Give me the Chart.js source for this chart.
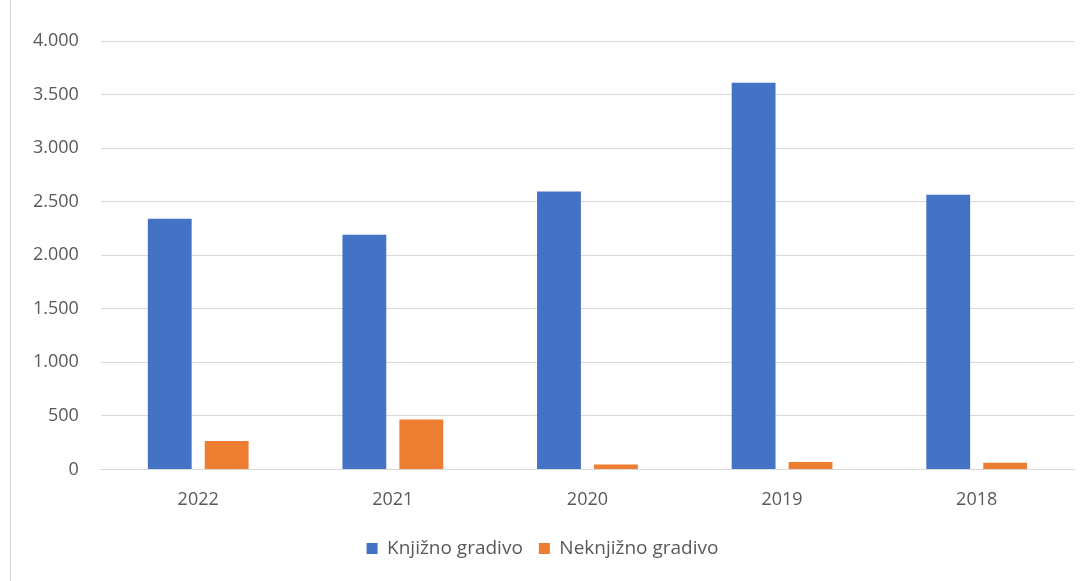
<!DOCTYPE html>
<html>
<head>
<meta charset="utf-8">
<script src="https://cdn.jsdelivr.net/npm/chart.js@4"></script>
<style>
html,body{margin:0;padding:0;background:#fff;}
#wrap{position:relative;height:581px;box-sizing:border-box;border-left:1px solid #d9d9d9;margin-left:10px;width:1078px;}
</style>
</head>
<body>
<div id="wrap"><canvas id="c"></canvas></div>
<script>
const categories = ['2022', '2021', '2020', '2019', '2018'];
const knjizno = [2340, 2190, 2595, 3610, 2565];
const neknjizno = [265, 465, 45, 70, 62];
const seriesNames = ['Knjižno gradivo', 'Neknjižno gradivo'];

function fmt(v){ return String(v).replace(/\B(?=(\d{3})+(?!\d))/g, '.'); }

new Chart(document.getElementById('c'), {
  type: 'bar',
  data: {
    labels: categories,
    datasets: [
      { label: seriesNames[0], data: knjizno, backgroundColor: '#4472c4', borderColor: '#4472c4' },
      { label: seriesNames[1], data: neknjizno, backgroundColor: '#ed7d31', borderColor: '#ed7d31' }
    ]
  },
  options: {
    responsive: true,
    maintainAspectRatio: false,
    animation: false,
    datasets: { bar: { categoryPercentage: 0.585, barPercentage: 0.77 } },
    layout: { padding: { left: 0, right: 14, top: 41, bottom: 13 } },
    scales: {
      x: {
        grid: { display: false },
        border: { display: true, color: '#d9d9d9' },
        ticks: { color: '#595959', font: { family: 'Open Sans', size: 18 }, padding: 12 }
      },
      y: {
        min: 0, max: 4000,
        ticks: { stepSize: 500, color: '#595959', font: { family: 'Open Sans', size: 18 }, padding: 22, callback: v => fmt(v) },
        grid: { color: '#d9d9d9', drawTicks: false },
        border: { display: false }
      }
    },
    plugins: {
      legend: {
        position: 'bottom',
        labels: { color: '#595959', font: { family: 'Open Sans', size: 19 }, usePointStyle: true, pointStyle: 'rect', boxWidth: 11, boxHeight: 11, padding: 16 }
      },
      tooltip: { enabled: false }
    }
  }
});
</script>
</body>
</html>
